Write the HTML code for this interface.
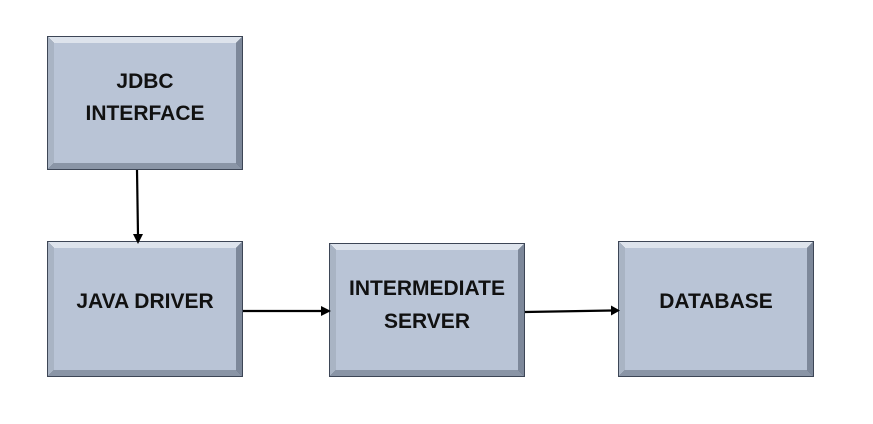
<!DOCTYPE html>
<html><head><style>
html,body{margin:0;padding:0;background:#fff;}
svg text{font-family:"Liberation Sans",sans-serif;font-weight:bold;font-size:21px;fill:#111;text-anchor:middle;}
</style></head><body>
<svg width="873" height="419" viewBox="0 0 873 419" xmlns="http://www.w3.org/2000/svg">
<g transform="translate(47,36)">
<rect x="0" y="0" width="196" height="134" fill="#3d4656"/>
<polygon points="1,1 195,1 189,7 7,7" fill="#dde3ec"/>
<polygon points="1,1 7,7 7,127 1,133" fill="#a9b4c4"/>
<polygon points="195,1 195,133 189,127 189,7" fill="#7d889a"/>
<polygon points="1,133 195,133 189,127 7,127" fill="#8a95a6"/>
<rect x="7" y="7" width="182" height="120" fill="#b9c4d6"/>
<text x="98" y="52">JDBC</text>
<text x="98" y="84">INTERFACE</text>
</g>
<g transform="translate(47,241)">
<rect x="0" y="0" width="196" height="136" fill="#3d4656"/>
<polygon points="1,1 195,1 189,7 7,7" fill="#dde3ec"/>
<polygon points="1,1 7,7 7,129 1,135" fill="#a9b4c4"/>
<polygon points="195,1 195,135 189,129 189,7" fill="#7d889a"/>
<polygon points="1,135 195,135 189,129 7,129" fill="#8a95a6"/>
<rect x="7" y="7" width="182" height="122" fill="#b9c4d6"/>
<text x="98" y="67">JAVA DRIVER</text>
</g>
<g transform="translate(329,243)">
<rect x="0" y="0" width="196" height="134" fill="#3d4656"/>
<polygon points="1,1 195,1 189,7 7,7" fill="#dde3ec"/>
<polygon points="1,1 7,7 7,127 1,133" fill="#a9b4c4"/>
<polygon points="195,1 195,133 189,127 189,7" fill="#7d889a"/>
<polygon points="1,133 195,133 189,127 7,127" fill="#8a95a6"/>
<rect x="7" y="7" width="182" height="120" fill="#b9c4d6"/>
<text x="98" y="52">INTERMEDIATE</text>
<text x="98" y="85">SERVER</text>
</g>
<g transform="translate(618,241)">
<rect x="0" y="0" width="196" height="136" fill="#3d4656"/>
<polygon points="1,1 195,1 189,7 7,7" fill="#dde3ec"/>
<polygon points="1,1 7,7 7,129 1,135" fill="#a9b4c4"/>
<polygon points="195,1 195,135 189,129 189,7" fill="#7d889a"/>
<polygon points="1,135 195,135 189,129 7,129" fill="#8a95a6"/>
<rect x="7" y="7" width="182" height="122" fill="#b9c4d6"/>
<text x="98" y="67">DATABASE</text>
</g>
<g stroke="#000" stroke-width="2.2" fill="none">
<line x1="137" y1="170" x2="138" y2="235"/>
<line x1="243" y1="311" x2="322" y2="311"/>
<line x1="525" y1="312" x2="612" y2="310.5"/>
</g>
<g fill="#000">
<polygon points="133,234 143,234 138,244"/>
<polygon points="321,306 321,316 331,311"/>
<polygon points="611,305.5 611,315.5 620,310.5"/>
</g>
</svg>
</body></html>
